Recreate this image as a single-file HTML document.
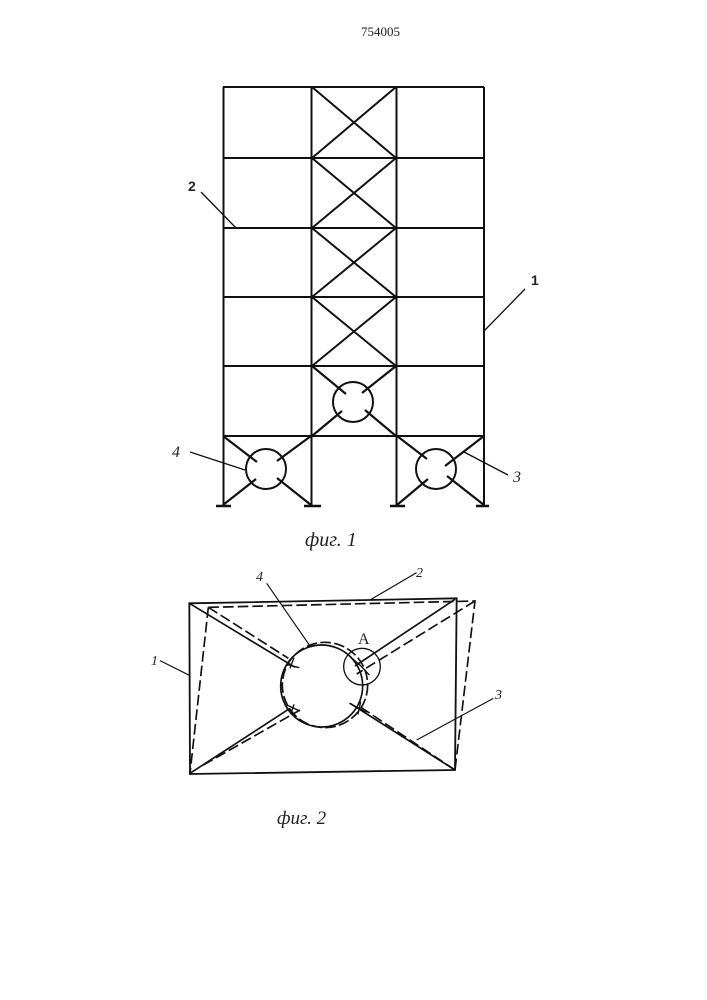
<!DOCTYPE html>
<html><head><meta charset="utf-8"><style>
html,body{margin:0;padding:0;background:#fff}
svg{display:block}
text{fill:#222}
</style></head><body>
<svg width="707" height="1000" viewBox="0 0 707 1000" xmlns="http://www.w3.org/2000/svg">
<rect width="707" height="1000" fill="#fff"/>
<text x="380.500" y="36" font-family="Liberation Serif, serif" font-size="13" text-anchor="middle">754005</text>
<g stroke="#111" fill="none" stroke-width="2">
<path d="M223 87H484M223 158H484M223 228H484M223 297H484M223 366H484M223 436H484"/>
<path d="M223.500 87V506M311.500 87V506M396.500 87V506M484 87V506"/>
<path d="M216 506H231M304 506H321M390 506H405M476 506H489" stroke-width="2.500"/>
<path d="M312 87L396 158M396 87L312 158M312 158L396 228M396 158L312 228M312 228L396 297M396 228L312 297M312 297L396 366M396 297L312 366"/>
<circle cx="353" cy="402" r="20"/><circle cx="266" cy="469" r="20"/><circle cx="436" cy="469" r="20"/>
<path d="M312 366L346 394M396 366L362 393M312 436L342 411M396 436L365 410" stroke-width="2.200"/>
<path d="M223 436L257 462M311 436L277 461M223 505L256 479M311 505L277 478" stroke-width="2.200"/>
<path d="M397 436L427 459M484 436L445 466M397 505L428 479M484 505L447 476" stroke-width="2.200"/>
<path d="M484 331L525 289M190 452L245 470M464 452L508 475M201 192L236 228" stroke-width="1.300"/>
</g>
<g font-family="Liberation Sans, sans-serif" font-weight="bold" font-size="14"><text x="188" y="191">2</text><text x="531" y="285">1</text></g>
<g font-family="Liberation Serif, serif" font-style="italic" font-size="16">
<text x="172" y="457">4</text><text x="513" y="482">3</text>
<text x="305" y="546" font-size="20">фиг. 1</text>
<text x="277" y="824" font-size="19">фиг. 2</text>
<text x="256" y="581" font-size="14">4</text><text x="416" y="577" font-size="14">2</text>
<text x="151" y="665" font-size="14">1</text><text x="495" y="699" font-size="14">3</text>
<text x="358" y="644" font-size="16" font-style="normal">A</text>
</g>
<g transform="translate(140 560) scale(.33333)" fill="none" stroke="#111" stroke-width="5">
<path d="M148 130L950 115L945 630L150 642Z" stroke-width="5.500"/>
<path d="M148 130L465 322M945 118L645 318M150 640L450 445M945 630L630 430"/>
<circle cx="545" cy="378" r="123"/>
<circle cx="666" cy="320" r="55" stroke-width="4"/>
<path d="M205 142L1005 123L945 630M205 142L150 640M205 142L445 295M1005 123L650 342M190 615L480 450M945 630L660 440" stroke-dasharray="32 12"/>
<circle cx="555" cy="375" r="128" stroke-dasharray="32 10"/>
<path d="M60 302L148 346M380 70L510 258M830 38L690 120M1060 415L830 540" stroke-width="3.500"/>
</g>
<g transform="translate(270 625) scale(.33333)" fill="none" stroke="#111" stroke-width="4">
<path d="M48 118L88 128M72 98L60 130M50 240L90 258M72 238L62 268M240 95L275 125M265 115L298 150M238 235L290 262M272 230L264 268"/>
</g>
</svg>
</body></html>
